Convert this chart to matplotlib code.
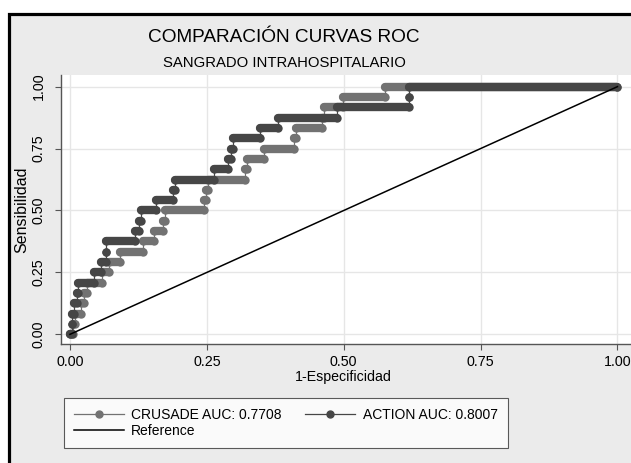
import numpy as np
import matplotlib.pyplot as plt
from matplotlib.lines import Line2D
from matplotlib.patches import Rectangle

plt.rcParams['font.family'] = ['Liberation Sans', 'DejaVu Sans']

# sensitivity levels (24 positive cases)
sens = [0.0, 0.0417, 0.0833, 0.125, 0.1667, 0.2083, 0.25, 0.2917, 0.3333,
        0.375, 0.4167, 0.4583, 0.5, 0.5417, 0.5833, 0.625, 0.6667, 0.7083,
        0.75, 0.7917, 0.8333, 0.875, 0.9167, 0.9583, 1.0]

# 1-specificity where each sensitivity level starts
crusade_x = [0.0, 0.005, 0.010, 0.020, 0.026, 0.031, 0.058, 0.071, 0.092,
             0.134, 0.154, 0.170, 0.174, 0.244, 0.249, 0.253, 0.319, 0.323,
             0.355, 0.410, 0.413, 0.461, 0.464, 0.499, 0.576]
action_x = [0.0, 0.003, 0.003, 0.008, 0.012, 0.015, 0.043, 0.056, 0.066,
            0.066, 0.118, 0.126, 0.130, 0.157, 0.189, 0.191, 0.263, 0.289,
            0.294, 0.298, 0.347, 0.380, 0.487, 0.619, 0.619]

labels = ['CRUSADE AUC: 0.7708', 'ACTION AUC: 0.8007', 'Reference']
c_crusade = '#727272'
c_action = '#464646'

fig = plt.figure(figsize=(6.31, 4.63), dpi=100)
fig.patch.set_facecolor('white')
# grey graph region with black frame (cut on right/bottom)
fig.patches.append(Rectangle((8.5 / 631, -0.2), 1.2, 1.2 - 13.5 / 463,
                             transform=fig.transFigure, facecolor='#ebebeb',
                             edgecolor='black', lw=2.3, zorder=-10))

ax = fig.add_axes([61 / 631, 119 / 463, 570 / 631, 269 / 463])
ax.set_facecolor('white')


def draw_roc(xs, ys, color):
    ends = xs[1:] + [1.0]
    vx, vy = [], []
    for x0, x1, y in zip(xs, ends, ys):
        vx += [x0, x1]
        vy += [y, y]
    ax.plot(vx, vy, color=color, lw=0.9, zorder=3)
    for x0, x1, y in zip(xs, ends, ys):
        ax.plot([x0, x1], [y, y], color=color, lw=6, solid_capstyle='round',
                marker='o', ms=6, mec=color, mew=0, zorder=3)


draw_roc(crusade_x, sens, c_crusade)
draw_roc(action_x, sens, c_action)
ax.plot([0, 1], [0, 1], color='black', lw=1.1, zorder=4)

ax.set_xlim(-0.0164, 1.0247)
ax.set_ylim(-0.039, 1.047)
ticks = [0, 0.25, 0.5, 0.75, 1.0]
ax.set_xticks(ticks)
ax.set_xticklabels(['0.00', '0.25', '0.50', '0.75', '1.00'], fontsize=10.3)
ax.set_yticks(ticks)
ax.set_yticklabels(['0.00', '0.25', '0.50', '0.75', '1.00'], fontsize=10.3,
                   rotation=90, va='center')
ax.tick_params(axis='x', length=4, width=0.8, color='#555555', pad=4)
ax.tick_params(axis='y', length=4, width=0.8, color='#555555', pad=7)
ax.grid(True, color='#e6e6e6', lw=1)
ax.set_axisbelow(True)
for s in ['top', 'right']:
    ax.spines[s].set_visible(False)
for s in ['left', 'bottom']:
    ax.spines[s].set_color('#555555')
    ax.spines[s].set_linewidth(1.0)

fig.text(22 / 631, 1 - 210 / 463, 'Sensibilidad', rotation=90, ha='center',
         va='center', fontsize=11.5)
fig.text(343 / 631, 1 - 377 / 463, '1-Especificidad', ha='center',
         va='center', fontsize=10.2)
fig.text(284 / 631, 1 - 37 / 463, 'COMPARACIÓN CURVAS ROC', ha='center',
         va='center', fontsize=13.7)
fig.text(284 / 631, 1 - 63 / 463, 'SANGRADO INTRAHOSPITALARIO', ha='center',
         va='center', fontsize=10.7)

handles = [Line2D([], [], color=c_crusade, lw=0.9, marker='o', ms=5),
           Line2D([], [], color='black', lw=1.1),
           Line2D([], [], color=c_action, lw=0.9, marker='o', ms=5)]
leg = fig.legend(handles, [labels[0], labels[2], labels[1]], ncol=2,
                 loc='lower left', bbox_to_anchor=(64 / 631, 15 / 463),
                 borderaxespad=0, fontsize=10, frameon=True, fancybox=False,
                 edgecolor='#333333', handlelength=3.6, handletextpad=0.55,
                 columnspacing=1.7, labelspacing=0.15, borderpad=0.7)
leg.get_frame().set_linewidth(0.8)

fig.savefig('out.png', dpi=100)
